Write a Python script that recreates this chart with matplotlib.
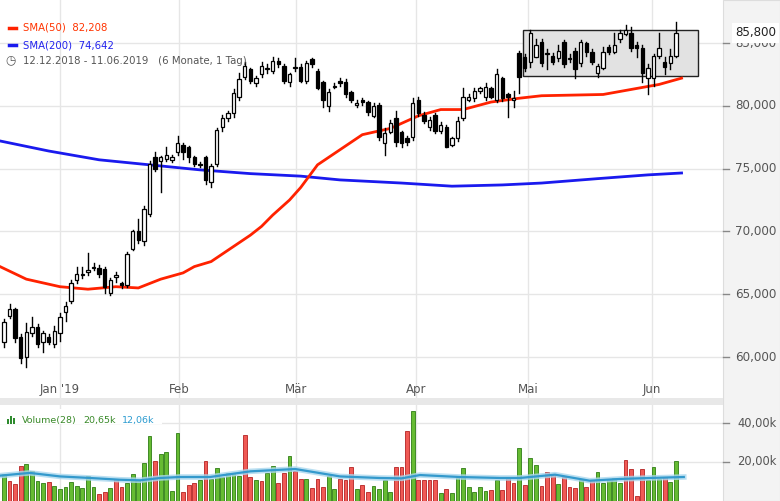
import matplotlib
matplotlib.use("Agg")
import matplotlib.pyplot as plt
from matplotlib.patches import Rectangle
import numpy as np

opens = [61.2,63.3,63.8,61.6,60.0,61.9,62.4,61.2,61.6,61.0,
         61.9,63.6,64.5,66.1,66.5,66.8,67.1,67.1,67.0,65.1,
         66.4,65.9,65.7,68.6,70.0,69.2,71.4,75.9,75.6,75.8,
         75.7,76.3,76.9,76.7,75.9,75.4,75.9,73.9,75.4,78.3,
         79.0,79.4,80.7,82.3,82.9,81.8,82.5,82.9,82.8,83.6,
         83.2,81.9,83.0,83.1,82.0,83.7,82.8,81.9,80.0,81.5,
         82.0,81.9,81.1,80.1,80.5,80.3,79.2,80.1,77.0,77.9,
         79.0,77.9,77.4,77.5,80.5,79.3,78.3,79.3,78.0,78.3,
         76.9,77.4,79.0,80.5,80.6,81.2,80.7,81.4,80.5,82.2,
         80.9,80.5,84.2,83.9,83.5,83.9,85.1,84.1,84.0,83.8,
         85.1,83.7,84.4,83.4,85.0,84.3,82.6,83.0,84.7,84.3,
         85.3,85.7,85.8,84.8,84.6,82.2,82.2,84.0,83.5,83.4,84.0]
closes = [62.8,63.8,61.5,59.9,62.0,62.4,61.0,61.9,61.2,62.1,
          63.2,64.1,65.9,66.6,66.6,66.9,67.2,66.6,65.6,66.1,
          66.5,65.7,68.2,70.0,69.3,71.8,75.4,75.0,75.9,76.1,
          75.9,77.0,76.3,75.9,75.4,75.3,74.1,75.2,78.1,79.0,
          79.4,81.0,82.1,83.2,82.0,82.2,83.2,83.0,83.6,83.3,
          82.0,82.5,83.1,82.0,83.4,83.3,81.4,80.5,81.1,81.6,
          81.8,80.9,80.5,80.2,80.3,79.5,80.0,77.5,77.8,78.6,
          77.1,77.0,77.1,80.2,79.4,78.8,78.9,78.0,78.5,76.7,
          77.4,78.8,80.7,80.7,81.2,81.4,81.5,80.7,82.5,80.6,
          80.7,80.6,82.3,83.0,85.8,84.8,83.4,84.2,83.5,84.4,
          83.3,83.8,82.9,85.1,84.3,83.5,83.2,84.3,84.3,84.8,
          85.8,86.0,84.6,84.6,82.6,83.0,84.0,84.6,83.1,84.0,85.8]
highs = [63.0,64.2,63.9,61.8,62.7,63.2,62.6,62.1,61.8,62.5,
         63.5,64.4,66.1,67.2,67.2,68.3,67.5,67.3,67.2,66.3,
         66.8,66.0,68.4,70.1,71.0,72.0,75.6,76.3,76.0,76.7,
         76.1,77.6,77.0,76.8,76.0,75.5,76.0,75.4,78.2,79.3,
         79.6,81.3,82.6,83.5,83.0,82.4,83.5,83.3,83.9,83.8,
         83.3,82.6,83.8,83.3,83.6,83.8,82.9,82.0,81.3,81.8,
         82.2,82.1,81.2,80.5,80.6,80.4,80.2,80.2,78.2,78.9,
         79.6,78.0,77.6,80.6,80.7,79.5,79.1,79.4,78.7,78.5,
         77.5,79.1,81.4,80.9,81.4,81.5,81.8,81.5,82.9,82.3,
         81.0,81.2,84.4,84.1,86.0,85.3,85.3,84.5,84.2,84.8,
         85.2,84.1,84.6,85.2,85.1,84.5,83.3,84.7,84.8,85.8,
         86.0,86.4,86.3,85.1,84.8,83.3,84.1,85.8,83.9,84.5,86.7]
lows = [60.8,63.1,61.2,59.5,59.2,61.7,60.8,60.4,61.0,60.8,
        61.3,62.9,64.3,65.9,66.3,66.5,66.9,66.4,65.1,64.9,
        66.0,65.5,65.6,68.5,69.1,68.9,71.2,74.8,73.1,75.6,
        75.5,76.1,75.8,75.5,75.2,75.1,73.8,73.5,75.2,78.0,
        78.8,79.1,80.5,82.1,81.8,81.6,82.3,82.6,82.6,83.1,
        81.8,81.6,82.8,81.9,81.8,83.1,81.3,79.9,79.6,81.4,
        81.6,80.7,80.3,79.9,80.1,79.3,79.1,77.3,76.1,77.8,
        76.8,76.7,76.9,77.3,79.2,78.6,78.1,77.8,77.8,76.7,
        76.8,77.2,78.9,80.4,80.4,81.0,80.5,80.6,80.3,80.4,
        79.1,79.9,81.0,82.8,83.1,83.9,83.2,82.9,83.3,83.6,
        83.1,83.5,82.2,83.2,84.0,83.3,82.3,82.9,84.1,84.2,
        85.1,85.6,84.4,83.9,81.9,80.9,81.6,83.8,82.5,82.9,83.9]

vol_k = [14.0,10.4,8.9,18.1,19.1,15.2,10.4,9.2,9.9,7.9,
         6.3,7.0,9.9,7.9,6.5,13.0,7.2,3.8,4.6,6.7,
         11.3,7.2,9.2,14.0,10.6,19.5,33.5,20.7,24.1,25.0,
         5.3,34.9,4.8,8.2,9.4,10.9,20.7,11.3,16.9,12.1,
         14.4,14.4,12.8,34.0,12.1,10.8,10.4,14.4,17.9,9.4,
         14.4,23.1,15.2,11.3,11.3,6.7,11.3,7.2,12.8,6.2,
         11.3,10.9,17.4,6.2,8.4,4.8,7.9,6.2,10.6,4.6,
         17.4,17.4,36.1,46.2,10.9,10.9,10.6,10.9,4.3,6.2,
         4.1,12.8,16.9,7.2,4.8,7.2,5.3,5.8,10.9,5.8,
         11.8,9.2,27.2,8.4,22.1,18.5,7.7,15.0,13.8,8.9,
         12.3,7.2,6.8,10.6,7.4,10.8,15.0,9.4,10.8,11.8,
         9.4,21.0,16.4,2.7,16.4,10.9,17.4,11.5,12.1,9.9,20.5]
vol_dir = "grrrggggrg" "gggggggrrg" "rrgggggrgg" "ggrrrgrggg" \
          "gggrrgrggr" "rgrrgrrrgg" "rrrgrrgggg" "rrrgrrrrgr" \
          "gggggggrgr" "rrgrggrrrg" "rrrgrrgggg" "grrrrgggrgg"

sma50_idx = [-0.7,4,10,15,20,24,28,32,34,37,40,42,44,46,48,51,53,56,58,60,62,64,66,69,74,78,82,87,92,96,107,112,117,121]
sma50_val = [67.2,66.2,65.6,65.4,65.6,65.5,66.2,66.7,67.2,67.6,68.5,69.1,69.7,70.4,71.3,72.5,73.5,75.3,75.9,76.5,77.1,77.7,77.9,78.2,79.2,79.7,79.7,80.3,80.6,80.8,80.9,81.3,81.7,82.2]
sma200_idx = [-0.7,8,17,26,35,44,53,60,71,80,89,96,106,115,121]
sma200_val = [77.2,76.4,75.7,75.3,74.9,74.6,74.4,74.1,73.85,73.6,73.7,73.85,74.2,74.5,74.65]
vsma_idx = [-0.7,4.6,10,15.4,20.7,24.3,27.9,31.4,36.8,44,52,60,67,71,74.3,81.4,88.6,92.1,98.4,104.6,110,115.4,121.4]
vsma_val = [13.0,14.4,12.6,11.8,10.9,10.6,11.8,12.3,12.3,15.2,16.4,12.6,11.8,11.6,13.3,12.3,11.8,11.8,13.5,10.4,11.3,11.8,12.3]

month_pos = [10, 31.3, 52.1, 73.6, 93.6, 115.7]
month_lbl = ["Jan '19", "Feb", "Mär", "Apr", "Mai", "Jun"]
price_ticks = [60, 65, 70, 75, 80, 85]
vol_ticks = [20, 40]

W, H = 780, 501
fig = plt.figure(figsize=(7.8, 5.01), dpi=100)
fig.patch.set_facecolor("white")
fig.patches.append(Rectangle((723/W, 0), 57/W, 1, transform=fig.transFigure, facecolor="#f3f3f3", edgecolor="#dddddd", lw=0.8))
fig.patches.append(Rectangle((0, (501-405)/H), 723/W, 7/H, transform=fig.transFigure, facecolor="#e8e8e8", edgecolor="none"))

XL = (-0.7, 128.4)
ax = fig.add_axes([0, (501-398)/H, 723/W, 398/H])
ax.set_xlim(*XL); ax.set_ylim(56.74, 88.42)
for s in ax.spines.values(): s.set_visible(False)
ax.set_xticks([]); ax.set_yticks([])
for p in price_ticks:
    ax.axhline(p, color="#e6e6e6", lw=1, zorder=0)
for m in month_pos:
    ax.axvline(m, color="#e6e6e6", lw=1, zorder=0)
ax.add_patch(Rectangle((92.7, 82.35), 31.2, 3.65, facecolor="#e2e2e2", edgecolor="#222222", lw=1, zorder=1))
ax.plot(sma200_idx, sma200_val, color="#1a1aee", lw=2, zorder=2)
ax.plot(sma50_idx, sma50_val, color="#ff2200", lw=2, zorder=2)
for i in range(len(opens)):
    o, c, h, l = opens[i], closes[i], highs[i], lows[i]
    ax.plot([i, i], [l, h], color="black", lw=1, zorder=3)
    fc = "white" if c >= o else "black"
    ax.add_patch(Rectangle((i-0.3, min(o, c)), 0.6, max(abs(c-o), 0.06), facecolor=fc, edgecolor="black", lw=0.9, zorder=4))
for m, lb in zip(month_pos, month_lbl):
    ax.text(m, 57.45, lb, ha="center", va="center", fontsize=8.5, color="#555555")

fig.lines.append(plt.Line2D([9/W, 16/W], [1-28/H]*2, transform=fig.transFigure, color="#ff2200", lw=2.5))
fig.lines.append(plt.Line2D([9/W, 16/W], [1-45/H]*2, transform=fig.transFigure, color="#1a1aee", lw=2.5))
fig.text(23/W, 1-28/H, "SMA(50)  82,208", color="#ff3300", fontsize=7.3, va="center")
fig.text(23/W, 1-45/H, "SMA(200)  74,642", color="#2222ee", fontsize=7.3, va="center")
fig.text(5/W, 1-61/H, "\u25F7", color="#555555", fontsize=8.5, va="center")
fig.text(23/W, 1-61/H, "12.12.2018 - 11.06.2019   (6 Monate, 1 Tag)", color="#555555", fontsize=7.3, va="center")

pf = lambda v: (357 - (v-60)*12.56)
for p in price_ticks:
    y = pf(p)
    fig.text(735/W, 1-y/H, f"{p},000", color="#555555", fontsize=8.6, va="center")
    fig.lines.append(plt.Line2D([723/W, 729/W], [1-y/H]*2, transform=fig.transFigure, color="#888888", lw=1))
yl = pf(closes[-1])
fig.text(735/W, 1-yl/H, "85,800", color="#222222", fontsize=8.6, va="center", zorder=10,
         bbox=dict(facecolor="white", edgecolor="none", pad=2.5))

vx = fig.add_axes([0, 0, 723/W, 96/H])
vx.set_xlim(*XL); vx.set_ylim(0, 49.2)
for s in vx.spines.values(): s.set_visible(False)
vx.set_xticks([]); vx.set_yticks([])
for v in vol_ticks:
    vx.axhline(v, color="#e6e6e6", lw=1, zorder=0)
for m in month_pos:
    vx.axvline(m, color="#e6e6e6", lw=1, zorder=0)
for i, (v, d) in enumerate(zip(vol_k, vol_dir)):
    fc, ec = ("#66bb33", "#2e7d14") if d == "g" else ("#f05a55", "#b52222")
    vx.bar(i, v, width=0.68, color=fc, edgecolor=ec, lw=0.6, zorder=2)
vx.plot(vsma_idx, vsma_val, color="#aad8ee", lw=4, zorder=3, alpha=0.8)
vx.plot(vsma_idx, vsma_val, color="#3399cc", lw=1.6, zorder=4)
vx.add_patch(Rectangle((-0.7, 39.5), 29, 7.5, facecolor="white", edgecolor="none", zorder=5))
for k, hh in enumerate([5, 8, 6]):
    fig.patches.append(Rectangle(((7+k*3)/W, 1-424/H), 2/W, hh/H, transform=fig.transFigure, facecolor="#2e8b2e", edgecolor="none", zorder=6))
fig.text(22/W, 1-420/H, "Volume(28)", color="#3a8a2a", fontsize=6.8, va="center")
fig.text(83/W, 1-420/H, "20,65k", color="#3a8a2a", fontsize=6.8, va="center")
fig.text(122/W, 1-420/H, "12,06k", color="#2b9bd0", fontsize=6.8, va="center")
for v in vol_ticks:
    y = 501 - v*39/20
    fig.text(737/W, 1-y/H, f"{v},00k", color="#555555", fontsize=8.3, va="center")
    fig.lines.append(plt.Line2D([723/W, 729/W], [1-y/H]*2, transform=fig.transFigure, color="#888888", lw=1))

fig.savefig("out.png", dpi=100)
